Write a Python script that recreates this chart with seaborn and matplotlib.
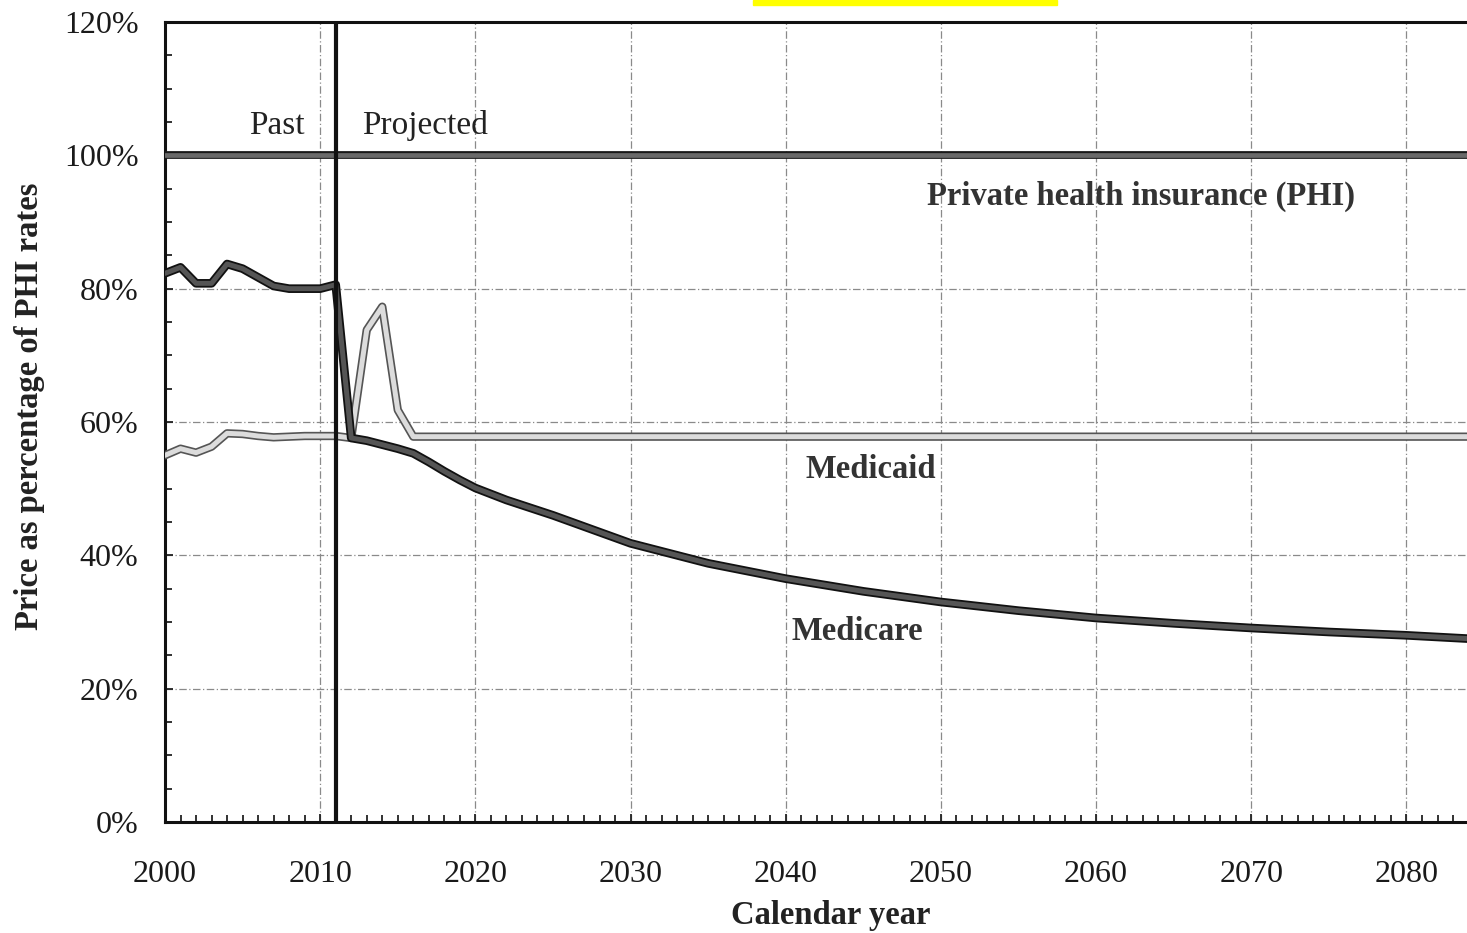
import matplotlib
matplotlib.use("Agg")
import matplotlib.pyplot as plt
import matplotlib.patheffects as pe
from matplotlib.ticker import MultipleLocator, PercentFormatter
from matplotlib.patches import Rectangle
import seaborn as sns
import pandas as pd

# Medicare prices as % of PHI rates
medicare_years = [2000, 2001, 2002, 2003, 2004, 2005, 2006, 2007, 2008, 2009,
                  2010, 2011, 2012, 2013, 2014, 2015, 2016, 2017, 2018, 2019,
                  2020, 2022, 2025, 2030, 2035, 2040, 2045, 2050, 2055, 2060,
                  2065, 2070, 2075, 2080, 2084]
medicare_vals = [82.3, 83.2, 80.8, 80.8, 83.7, 83.0, 81.7, 80.4, 80.0, 80.0,
                 80.0, 80.6, 57.6, 57.2, 56.6, 56.0, 55.3, 54.0, 52.6, 51.3,
                 50.1, 48.3, 46.0, 41.8, 38.8, 36.5, 34.6, 33.0, 31.7, 30.6,
                 29.8, 29.1, 28.5, 28.0, 27.5]

# Medicaid prices as % of PHI rates
medicaid_years = [2000, 2001, 2002, 2003, 2004, 2005, 2006, 2007, 2008, 2009,
                  2010, 2011, 2012, 2013, 2014, 2015, 2016, 2084]
medicaid_vals = [55.0, 56.0, 55.4, 56.3, 58.3, 58.2, 57.9, 57.7, 57.8, 57.9,
                 57.9, 57.9, 57.6, 73.8, 77.3, 61.8, 57.8, 57.8]

# PHI is the reference level
phi_years = [2000, 2084]
phi_vals = [100.0, 100.0]

divider_year = 2011

x_ticks = list(range(2000, 2081, 10))

series_labels = [("Private health insurance (PHI)", 2062.9, 93.8),
                 ("Medicaid", 2045.5, 52.9),
                 ("Medicare", 2044.6, 28.5)]

sns.set_theme(style="white")
plt.rcParams['font.family'] = ['Liberation Serif', 'DejaVu Serif']

fig = plt.figure(figsize=(14.67, 9.33), dpi=100)
ax = fig.add_axes([165 / 1467, 111 / 933, 1302 / 1467, 800 / 933])

# scrap of highlighted title text cut off at the top of the scan
fig.patches.append(Rectangle((753 / 1467, 928 / 933), 304 / 1467, 5 / 933,
                             transform=fig.transFigure, color="#ffff00", zorder=5))

phi = pd.DataFrame({"year": phi_years, "pct": phi_vals})
medicare = pd.DataFrame({"year": medicare_years, "pct": medicare_vals})
medicaid = pd.DataFrame({"year": medicaid_years, "pct": medicaid_vals})

sns.lineplot(data=phi, x="year", y="pct", ax=ax, color="#6a6a6a", lw=3.4,
             path_effects=[pe.Stroke(linewidth=5.6, foreground="#1a1a1a"), pe.Normal()],
             zorder=4)
sns.lineplot(data=medicaid, x="year", y="pct", ax=ax, color="#dcdcdc", lw=3.6,
             path_effects=[pe.Stroke(linewidth=6.0, foreground="#555555"), pe.Normal()],
             zorder=4)
sns.lineplot(data=medicare, x="year", y="pct", ax=ax, color="#555555", lw=3.6,
             path_effects=[pe.Stroke(linewidth=6.2, foreground="#111111"), pe.Normal()],
             zorder=5)

ax.axvline(divider_year, color="#111111", lw=3, zorder=6)

ax.set_xlim(2000, 2083.9)
ax.set_ylim(0, 120)
ax.xaxis.set_major_locator(MultipleLocator(10))
ax.xaxis.set_minor_locator(MultipleLocator(1))
ax.yaxis.set_major_locator(MultipleLocator(20))
ax.yaxis.set_minor_locator(MultipleLocator(5))
ax.yaxis.set_major_formatter(PercentFormatter(xmax=100, decimals=0))
ax.set_xticks(x_ticks)

ax.tick_params(axis="both", which="both", direction="in", color="#222222",
               labelsize=23, labelcolor="#1a1a1a", bottom=True, left=True)
ax.tick_params(axis="both", which="major", length=6, width=1.3)
ax.tick_params(axis="both", which="minor", length=5, width=1.3)
ax.tick_params(axis="x", which="major", pad=27)
ax.tick_params(axis="y", which="major", pad=19)

ax.grid(True, which="major", color="#8a8a8a", lw=0.9, ls=(0, (6, 2, 1, 2)), zorder=1)

for side in ["top", "left", "bottom"]:
    ax.spines[side].set_color("#111111")
    ax.spines[side].set_linewidth(2.2)
ax.spines["right"].set_visible(False)

ax.set_xlabel("Calendar year", fontsize=23.5, fontweight="bold", color="#222222")
ax.set_ylabel("Price as percentage of PHI rates", fontsize=23.5, fontweight="bold",
              color="#222222")
ax.xaxis.set_label_coords(0.511, -0.098)
ax.yaxis.set_label_coords(-0.092, 0.519)

ax.text(2007.2, 104.4, "Past", fontsize=24, ha="center", va="center", color="#222222")
ax.text(2012.7, 104.4, "Projected", fontsize=24, ha="left", va="center", color="#222222")

for label, x, y in series_labels:
    ax.text(x, y, label, fontsize=23.5, fontweight="bold", ha="center", va="center",
            color="#333333", zorder=7)

fig.savefig("out.png", dpi=100)
